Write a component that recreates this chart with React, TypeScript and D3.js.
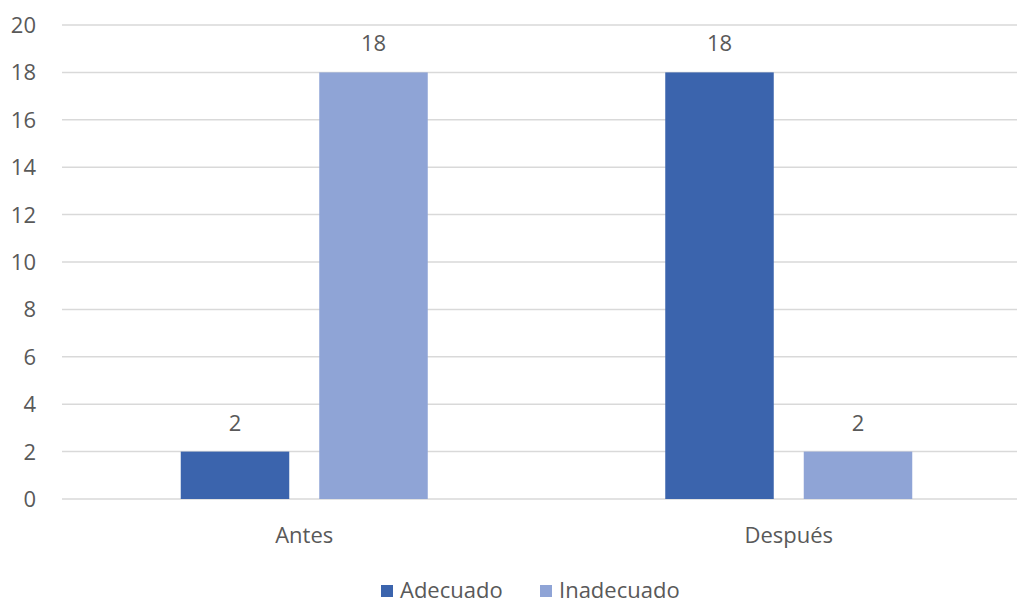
import React from "react";
import * as d3 from "d3";

const categories = ["Antes", "Después"];
const seriesNames = ["Adecuado", "Inadecuado"];
const adecuado = [2, 18];
const inadecuado = [18, 2];
const yTicks = [0, 2, 4, 6, 8, 10, 12, 14, 16, 18, 20];
const colors = ["#3B64AD", "#8FA4D6"];

const W = 1017;
const H = 603;
const FONT = "'Open Sans', sans-serif";

export default function App() {
  const x0 = d3.scaleBand().domain(categories).range([62, 1031]).paddingInner(0).paddingOuter(0);
  const y = d3.scaleLinear().domain([0, 20]).range([499, 25]);
  const bw = 108.5;
  const gap = 30;
  const values = [adecuado, inadecuado];
  const textColor = "#595959";

  return (
    <svg width={W} height={H} style={{ position: "absolute", left: 0, top: 0, display: "block", background: "#fff" }}>
      {yTicks.map((t) => (
        <g key={t}>
          <line x1={62} x2={W} y1={y(t)} y2={y(t)} stroke="#D9D9D9" strokeWidth={1.5} />
          <text x={36} y={y(t)} dy="0.36em" textAnchor="end" fontFamily={FONT} fontSize={22} fill={textColor}>
            {t}
          </text>
        </g>
      ))}
      {categories.map((c, i) => {
        const center = (x0(c) as number) + x0.bandwidth() / 2;
        const groupW = bw * 2 + gap;
        return (
          <g key={c}>
            {values.map((vals, s) => {
              const bx = center - groupW / 2 + s * (bw + gap);
              const v = vals[i];
              return (
                <g key={s}>
                  <rect x={bx} y={y(v)} width={bw} height={y(0) - y(v)} fill={colors[s]} />
                  <text x={bx + bw / 2} y={y(v) - 21} textAnchor="middle" fontFamily={FONT} fontSize={22} fill={textColor}>
                    {v}
                  </text>
                </g>
              );
            })}
            <text x={center} y={543} textAnchor="middle" fontFamily={FONT} fontSize={22} fill={textColor}>
              {c}
            </text>
          </g>
        );
      })}
      {seriesNames.map((n, s) => {
        const lx = s === 0 ? 381 : 540;
        return (
          <g key={n}>
            <rect x={lx} y={585} width={12} height={12} fill={colors[s]} />
            <text x={lx + 19} y={598} fontFamily={FONT} fontSize={22} fill={textColor}>
              {n}
            </text>
          </g>
        );
      })}
    </svg>
  );
}
